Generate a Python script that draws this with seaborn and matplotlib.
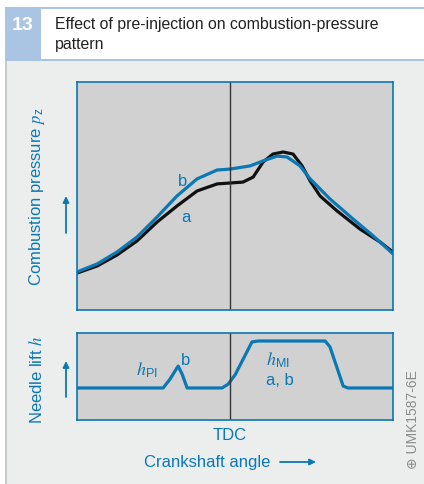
import numpy as np
import pandas as pd
import matplotlib.pyplot as plt
import seaborn as sns
from matplotlib.patches import Rectangle

# ---- data ----
# crank angle in degrees, TDC = 0; pressure / lift in relative units (0-100)
angle_b = [-51, -44.3, -37.7, -31, -24.3, -17.7, -11, -4.3, 0, 6.7, 11, 15.7, 19, 23.3, 26.7, 33.3, 41, 47.7, 54.3]
pressure_b = [16.7, 20.2, 25.4, 32.0, 40.8, 50.0, 57.5, 61.4, 61.8, 63.2, 65.4, 67.5, 67.1, 63.2, 57.5, 48.7, 39.9, 32.5, 24.6]

angle_a = [-51, -44.3, -37.7, -31, -24.3, -17.7, -11, -4.3, 0, 4.3, 7.7, 11, 14.3, 17.7, 21, 24, 26.7, 30, 35.7, 43.3, 50, 54.3]
pressure_a = [16.2, 19.3, 24.1, 30.3, 38.6, 45.6, 52.2, 55.3, 55.7, 56.1, 58.3, 64.9, 68.4, 69.3, 68.4, 63.2, 56.6, 50.0, 43.4, 35.5, 29.8, 25.4]

angle_lift = [-51, -22.3, -20, -17.3, -16, -14.3, -2.7, -0.7, 1.7, 7.3, 9.3, 31.7, 33.3, 37.7, 39.3, 54.3]
needle_lift = [36.8, 36.8, 47, 62, 53, 36.8, 36.8, 41, 52, 89.7, 90.8, 90.8, 84, 39, 36.8, 36.8]

BLUE = "#0a78b4"
W, H = 424, 485

sns.set_theme(style="white")
plt.rcParams["font.family"] = ["Liberation Sans", "DejaVu Sans"]
plt.rcParams["mathtext.fontset"] = "custom"
plt.rcParams["mathtext.rm"] = "Liberation Sans"
plt.rcParams["mathtext.it"] = "STIXGeneral:italic"

fig = plt.figure(figsize=(W / 100, H / 100), dpi=100)
fig.patch.set_facecolor("white")


def box(x0, y0, x1, y1):
    # pixel box (top-left origin) -> figure fractions
    return [x0 / W, 1 - y1 / H, (x1 - x0) / W, (y1 - y0) / H]


def fx(x):
    return x / W


def fy(y):
    return 1 - y / H


def rect(x0, y0, x1, y1, color):
    fig.add_artist(Rectangle((fx(x0), fy(y1)), (x1 - x0) / W, (y1 - y0) / H,
                             transform=fig.transFigure, facecolor=color,
                             edgecolor="none", zorder=-10))


# header + panel background
rect(5, 62, 424, 485, "#eceeee")
rect(5, 62, 6.5, 485, "#c9cbcb")
rect(5, 8, 424, 62, "#a9c5e3")
rect(41, 10, 424, 60, "white")
fig.text(fx(23), fy(26), "13", color="white", fontsize=14, fontweight="bold", ha="center", va="center")
fig.text(fx(55), fy(25), "Effect of pre-injection on combustion-pressure", color="#222222",
         fontsize=11.4, ha="left", va="center")
fig.text(fx(55), fy(45), "pattern", color="#222222", fontsize=11.4, ha="left", va="center")

line_kw = dict(lw=2.3, sort=False, solid_joinstyle="round", solid_capstyle="round")

# ---- combustion pressure ----
ax1 = fig.add_axes(box(77, 83, 393, 311))
df_a = pd.DataFrame({"angle": angle_a, "p": pressure_a})
df_b = pd.DataFrame({"angle": angle_b, "p": pressure_b})
sns.lineplot(data=df_a, x="angle", y="p", ax=ax1, color="#111111", **line_kw)
sns.lineplot(data=df_b, x="angle", y="p", ax=ax1, color=BLUE, **line_kw)
ax1.axvline(0, color="#333333", lw=1)
ax1.text(-15.7, 57, "b", color=BLUE, fontsize=12, ha="center", va="center")
ax1.text(-14.7, 41, "a", color=BLUE, fontsize=12, ha="center", va="center")
ax1.set_xlim(-51, 54.3)
ax1.set_ylim(0, 100)

# ---- needle lift ----
ax2 = fig.add_axes(box(77, 334, 393, 421))
df_l = pd.DataFrame({"angle": angle_lift, "h": needle_lift})
sns.lineplot(data=df_l, x="angle", y="h", ax=ax2, color=BLUE, **line_kw)
ax2.axvline(0, color="#333333", lw=1)
ax2.text(-27.7, 58, r"$h_{\rm PI}$", color=BLUE, fontsize=13, ha="center", va="center")
ax2.text(-14.7, 70, "b", color=BLUE, fontsize=12, ha="center", va="center")
ax2.text(16, 70, r"$h_{\rm MI}$", color=BLUE, fontsize=13, ha="center", va="center")
ax2.text(16.7, 46, "a, b", color=BLUE, fontsize=12, ha="center", va="center")
ax2.set_xlim(-51, 54.3)
ax2.set_ylim(0, 100)

for ax in (ax1, ax2):
    ax.set_facecolor("#d1d1d1")
    ax.set_xticks([])
    ax.set_yticks([])
    ax.set_xlabel("")
    ax.set_ylabel("")
    for s in ax.spines.values():
        s.set_color(BLUE)
        s.set_linewidth(1.2)

# axis labels and arrows
fig.text(fx(37), fy(197), r"Combustion pressure $p_{\rm z}$", color=BLUE, fontsize=12,
         rotation=90, ha="center", va="center")
fig.text(fx(37), fy(380), r"Needle lift $h$", color=BLUE, fontsize=12,
         rotation=90, ha="center", va="center")
fig.text(fx(230), fy(436), "TDC", color=BLUE, fontsize=12, ha="center", va="center")
fig.text(fx(207), fy(463), "Crankshaft angle", color=BLUE, fontsize=12, ha="center", va="center")

arrow = dict(arrowstyle="-|>", color=BLUE, lw=1.3, mutation_scale=9, shrinkA=0, shrinkB=0)
fig.add_artist(plt.Annotation("", xy=(fx(66), fy(197)), xytext=(fx(66), fy(234)),
                              xycoords="figure fraction", arrowprops=arrow))
fig.add_artist(plt.Annotation("", xy=(fx(66), fy(362)), xytext=(fx(66), fy(398)),
                              xycoords="figure fraction", arrowprops=arrow))
fig.add_artist(plt.Annotation("", xy=(fx(316), fy(463)), xytext=(fx(280), fy(463)),
                              xycoords="figure fraction", arrowprops=arrow))

fig.text(fx(413), fy(420), "\u2295 UMK1587-6E", color="#8a8a8a", fontsize=10,
         rotation=90, ha="center", va="center", family=["Liberation Sans", "DejaVu Sans"])

fig.savefig("out.png", dpi=100)
